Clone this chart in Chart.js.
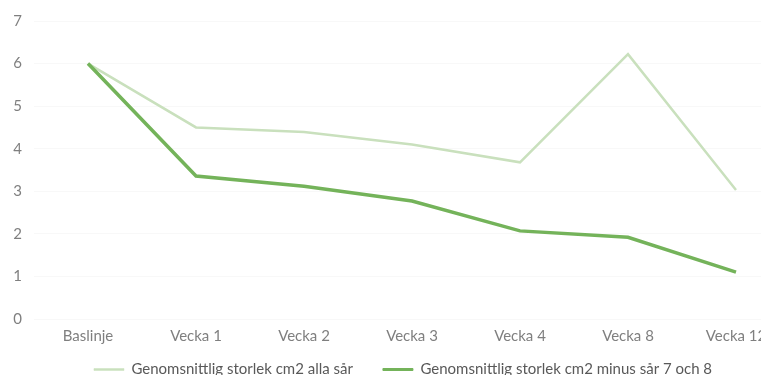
<!DOCTYPE html>
<html lang="sv">
<head>
<meta charset="utf-8">
<script src="https://cdn.jsdelivr.net/npm/chart.js@4/dist/chart.umd.min.js"></script>
<style>
  html, body { margin: 0; padding: 0; background: #fff; overflow: hidden; }
  #wrap { width: 790px; height: 408px; position: relative; }
</style>
</head>
<body>
<div id="wrap"><canvas id="sarChart"></canvas></div>
<script>
// Veckor för uppföljningen
const veckor = ['Baslinje', 'Vecka 1', 'Vecka 2', 'Vecka 3', 'Vecka 4', 'Vecka 8', 'Vecka 12'];

// Genomsnittlig sårstorlek i cm2
const allaSar = [6.0, 4.5, 4.39, 4.1, 3.68, 6.22, 3.03];
const utanSar7och8 = [6.0, 3.36, 3.12, 2.77, 2.07, 1.92, 1.1];

const etiketter = [
    'Genomsnittlig storlek cm2 alla sår',
    'Genomsnittlig storlek cm2 minus sår 7 och 8'
];

const ljusGron = '#c9e0bd';
const morkGron = '#74b35a';

// flyttar förklaringen lite åt höger och uppåt
const flyttaLegend = {
    id: 'flyttaLegend',
    afterLayout(chart) {
        const lg = chart.legend;
        lg.left += 8;
        lg.right += 8;
        lg.top -= 21;
        lg.bottom -= 21;
    }
};

document.addEventListener('DOMContentLoaded', function() {
    const ctx = document.getElementById('sarChart').getContext('2d');

    new Chart(ctx, {
        type: 'line',
        data: {
            labels: veckor,
            datasets: [
                {
                    label: etiketter[0],
                    data: allaSar,
                    borderColor: ljusGron,
                    backgroundColor: ljusGron,
                    borderWidth: 2.5,
                    pointRadius: 0,
                    tension: 0,
                    order: 1
                },
                {
                    label: etiketter[1],
                    data: utanSar7och8,
                    borderColor: morkGron,
                    backgroundColor: morkGron,
                    borderWidth: 3.5,
                    pointRadius: 0,
                    tension: 0,
                    order: 0
                }
            ]
        },
        plugins: [flyttaLegend],
        options: {
            responsive: true,
            maintainAspectRatio: false,
            animation: false,
            layout: { padding: { top: 12, left: 0, right: 0, bottom: 0 } },
            plugins: {
                tooltip: { enabled: false },
                legend: {
                    position: 'bottom',
                    labels: {
                        boxWidth: 30,
                        boxHeight: 2,
                        padding: 30,
                        color: '#595959',
                        font: { family: 'Lato', size: 15 },
                        sort: (a, b) => a.datasetIndex - b.datasetIndex,
                        generateLabels: function(chart) {
                            const items = Chart.defaults.plugins.legend.labels.generateLabels(chart);
                            return items.map(item => ({ ...item, lineWidth: item.datasetIndex === 0 ? 0.5 : 1 }));
                        }
                    }
                }
            },
            scales: {
                x: {
                    offset: true,
                    grid: { display: false, drawTicks: false },
                    border: { display: false },
                    ticks: {
                        color: '#7f7f7f',
                        padding: 8,
                        maxRotation: 0,
                        font: { family: 'Lato', size: 15 }
                    }
                },
                y: {
                    min: 0,
                    max: 7,
                    grid: { color: '#f8f8f8', drawTicks: false },
                    border: { display: false },
                    ticks: {
                        stepSize: 1,
                        color: '#7f7f7f',
                        padding: 12,
                        font: { family: 'Lato', size: 15 }
                    },
                    afterFit: function(scale) {
                        scale.width = 34;
                    }
                }
            }
        }
    });
});
</script>
</body>
</html>
